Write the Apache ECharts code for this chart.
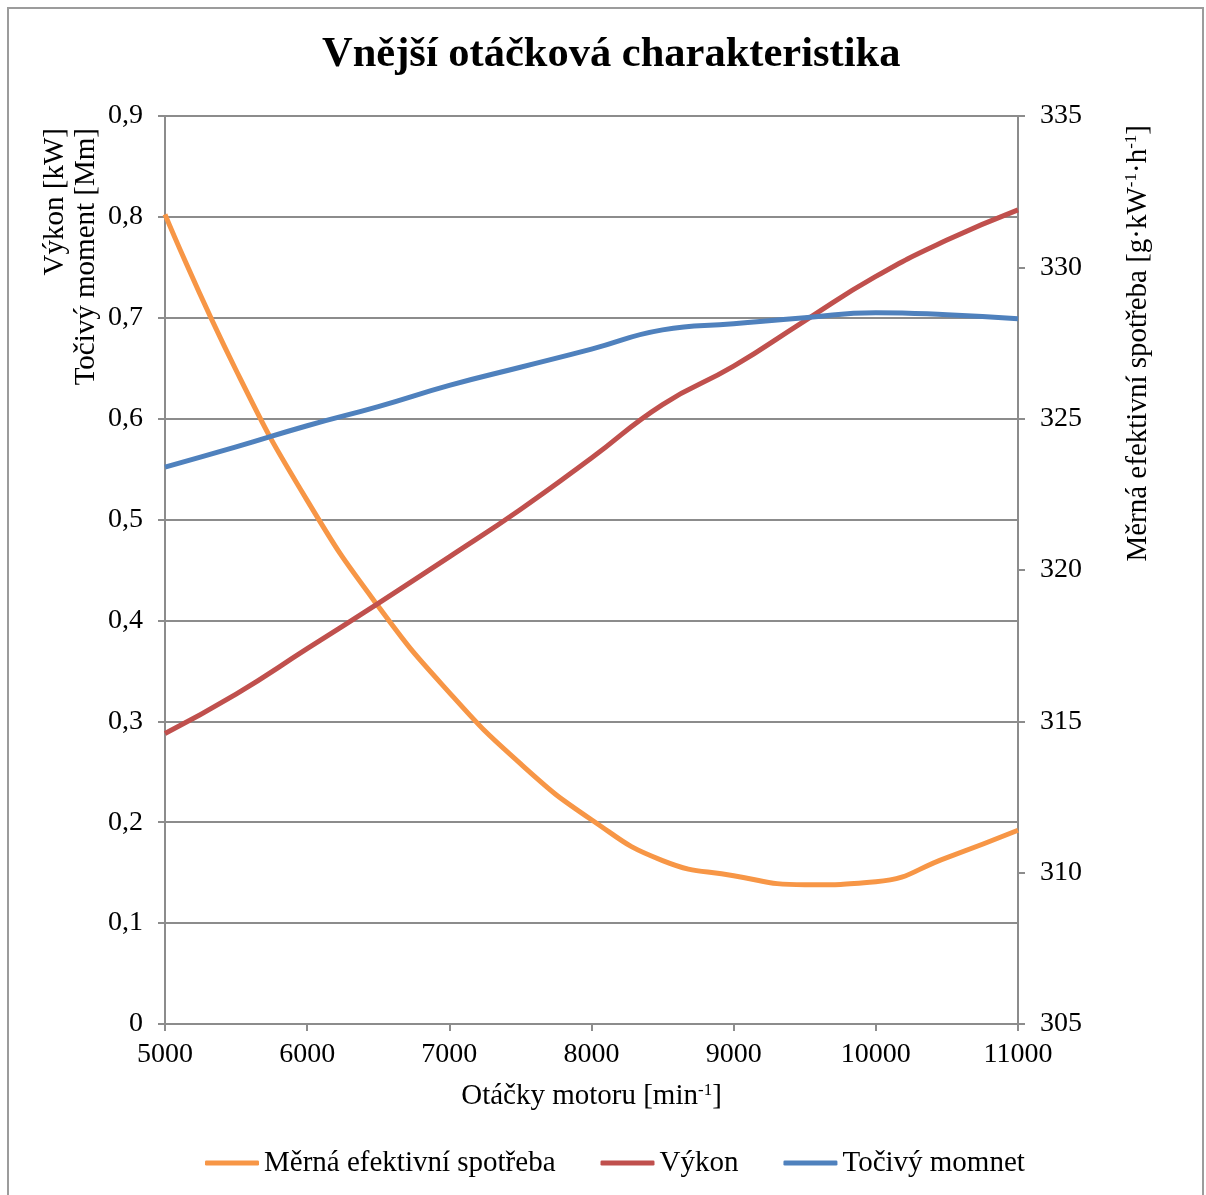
<!DOCTYPE html>
<html>
<head>
<meta charset="utf-8">
<script src="https://cdn.jsdelivr.net/npm/echarts@6/dist/echarts.min.js"></script>
<style>
  html, body { margin: 0; padding: 0; background: #ffffff; }
  #chart { width: 1206px; height: 1195px; }
</style>
</head>
<body>
<div id="chart"></div>
<script>
// Engine speed [min^-1]
const rpm = [5000, 5500, 6000, 6500, 7000, 7500, 8000, 8500, 9000, 9500, 10000, 10500, 11000];
// Specific effective consumption [g·kW^-1·h^-1] (right axis)
const spotreba = [331.75, 326.6, 322.3, 318.8, 315.95, 313.6, 311.75, 310.4, 309.9, 309.6, 309.7, 310.5, 311.4];
// Power [kW] (left axis)
const vykon = [0.288, 0.327, 0.372, 0.417, 0.463, 0.510, 0.561, 0.614, 0.652, 0.697, 0.741, 0.777, 0.807];
// Torque (left axis)
const moment = [0.552, 0.572, 0.593, 0.612, 0.633, 0.651, 0.669, 0.688, 0.694, 0.700, 0.705, 0.703, 0.699];

// Axis ranges: [min, max, interval]
const xRange = [5000, 11000, 1000];
const leftRange = [0, 0.9, 0.1];
const rightRange = [305, 335, 5];

const FONT = "'Liberation Serif', 'Times New Roman', serif";
const AXIS_GRAY = '#8c8c8c';

const pair = (ys) => rpm.map((x, i) => [x, ys[i]]);

const chart = echarts.init(document.getElementById('chart'), null, { renderer: 'canvas' });

chart.setOption({
  backgroundColor: '#ffffff',
  animation: false,
  title: {
    text: 'Vnější otáčková charakteristika',
    left: 322,
    top: 34,
    padding: 0,
    textStyle: { fontFamily: FONT, fontWeight: 'bold', fontSize: 42.5, color: '#000000' }
  },
  grid: { left: 165, right: 188, top: 116, bottom: 171, containLabel: false },
  legend: {
    left: 205,
    top: 1147,
    padding: 0,
    itemWidth: 54,
    itemHeight: 5,
    itemGap: 45,
    icon: 'roundRect',
    textStyle: { fontFamily: FONT, fontSize: 29, color: '#000000', lineHeight: 32 },
    data: ['Měrná efektivní spotřeba', 'Výkon', 'Točivý momnet']
  },
  xAxis: {
    type: 'value',
    min: xRange[0], max: xRange[1], interval: xRange[2],
    name: 'Otáčky motoru [min{sup|-1}]',
    nameLocation: 'middle',
    nameGap: 58,
    nameTextStyle: {
      fontFamily: FONT, fontSize: 29, color: '#000000',
      rich: { sup: { fontFamily: FONT, fontSize: 17, color: '#000000', verticalAlign: 'top' } }
    },
    axisLine: { show: true, lineStyle: { color: AXIS_GRAY, width: 2 } },
    axisTick: { show: true, inside: false, length: 7, lineStyle: { color: AXIS_GRAY, width: 2 } },
    axisLabel: {
      margin: 17, fontFamily: FONT, fontSize: 28, color: '#000000',
      formatter: (v) => String(v)
    },
    splitLine: { show: false }
  },
  yAxis: [
    {
      type: 'value',
      position: 'left',
      min: leftRange[0], max: leftRange[1], interval: leftRange[2],
      axisLine: { show: true, lineStyle: { color: AXIS_GRAY, width: 2 } },
      axisTick: { show: true, inside: false, length: 7, lineStyle: { color: AXIS_GRAY, width: 2 } },
      axisLabel: {
        margin: 22, fontFamily: FONT, fontSize: 28, color: '#000000',
        formatter: (v) => (Math.round(v * 10) === 0 ? '0' : v.toFixed(1).replace('.', ','))
      },
      splitLine: { show: true, lineStyle: { color: AXIS_GRAY, width: 2 } }
    },
    {
      type: 'value',
      position: 'right',
      min: rightRange[0], max: rightRange[1], interval: rightRange[2],
      axisLine: { show: true, lineStyle: { color: AXIS_GRAY, width: 2 } },
      axisTick: { show: true, inside: false, length: 7, lineStyle: { color: AXIS_GRAY, width: 2 } },
      axisLabel: { margin: 22, fontFamily: FONT, fontSize: 28, color: '#000000', formatter: (v) => String(v) },
      splitLine: { show: false }
    }
  ],
  series: [
    {
      name: 'Měrná efektivní spotřeba',
      type: 'line',
      yAxisIndex: 1,
      data: pair(spotreba),
      smooth: 0.5,
      showSymbol: false,
      lineStyle: { color: '#F79646', width: 5 },
      itemStyle: { color: '#F79646' },
      z: 2
    },
    {
      name: 'Výkon',
      type: 'line',
      yAxisIndex: 0,
      data: pair(vykon),
      smooth: 0.5,
      showSymbol: false,
      lineStyle: { color: '#C0504D', width: 5 },
      itemStyle: { color: '#C0504D' },
      z: 3
    },
    {
      name: 'Točivý momnet',
      type: 'line',
      yAxisIndex: 0,
      data: pair(moment),
      smooth: 0.5,
      showSymbol: false,
      lineStyle: { color: '#4F81BD', width: 5 },
      itemStyle: { color: '#4F81BD' },
      z: 4
    }
  ],
  graphic: [
    {
      type: 'rect',
      silent: true,
      z: -10,
      shape: { x: 8, y: 8, width: 1195, height: 1260 },
      style: { fill: 'none', stroke: '#9c9c9c', lineWidth: 2 }
    },
    {
      type: 'text',
      x: 55, y: 128,
      rotation: Math.PI / 2,
      style: {
        text: 'Výkon [kW]',
        font: '29px ' + FONT,
        fill: '#000000',
        align: 'right', verticalAlign: 'middle',
        textAlign: 'right', textVerticalAlign: 'middle'
      }
    },
    {
      type: 'text',
      x: 86, y: 128,
      rotation: Math.PI / 2,
      style: {
        text: 'Točivý moment [Mm]',
        font: '29px ' + FONT,
        fill: '#000000',
        align: 'right', verticalAlign: 'middle',
        textAlign: 'right', textVerticalAlign: 'middle'
      }
    },
    {
      type: 'text',
      x: 1138, y: 125,
      rotation: Math.PI / 2,
      style: {
        text: 'Měrná efektivní spotřeba [g·kW{sup|-1}·h{sup|-1}]',
        font: '29px ' + FONT,
        fill: '#000000',
        align: 'right', verticalAlign: 'middle',
        textAlign: 'right', textVerticalAlign: 'middle',
        rich: { sup: { font: '17px ' + FONT, fill: '#000000', verticalAlign: 'top' } }
      }
    }
  ]
});
</script>
</body>
</html>
